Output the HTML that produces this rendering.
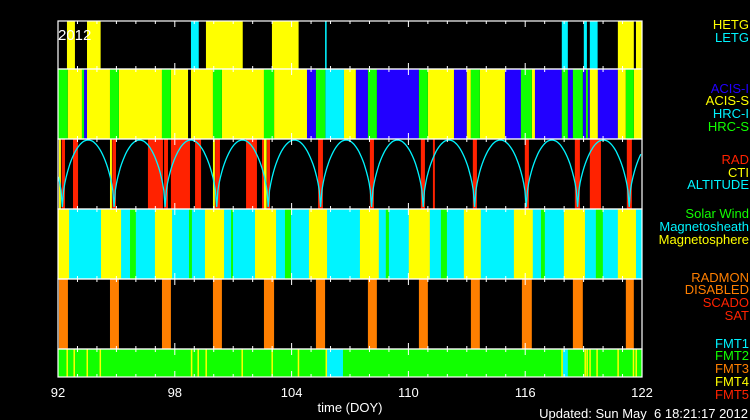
<!DOCTYPE html>
<html><head><meta charset="utf-8"><style>
body{margin:0;background:#000;width:750px;height:420px;overflow:hidden}
svg{display:block;font-family:"Liberation Sans",sans-serif}
text{white-space:pre}
</style></head><body>
<svg id="c" width="750" height="420"></svg>
<script>
// ---- data (DOY) ----
const tickLabels=[92,98,104,110,116,122];
const hetgSeg=[[92.46,92.87],[93.49,94.19],[99.60,101.49],[102.99,104.36],[120.76,121.58],[121.69,122]];
const letgSeg=[[98.83,99.23],[105.72,105.80],[117.88,118.19],[119.01,119.17],[119.32,119.72]];
const acisISeg=[[93.34,93.49],[104.79,105.25],[107.30,107.92],[108.38,110.54],[112.34,113.0],[114.96,115.78],[116.5,117.88],[118.19,118.45],[118.96,119.12],[119.22,119.32],[119.73,120.76]];
const acisSSeg=[[92.5,93.23],[93.49,94.67],[95.13,97.34],[97.8,98.68],[98.83,99.96],[100.42,102.58],[103.1,104.79],[106.69,107.30],[111.0,112.34],[113.0,113.21],[113.67,114.96],[116.34,116.5],[119.32,119.73],[120.76,121.17],[121.58,122]];
const hrcISeg=[[105.73,106.69]];
const hrcSSeg=[[92.0,92.5],[93.23,93.34],[94.67,95.13],[97.34,97.8],[99.96,100.42],[102.58,103.1],[105.25,105.73],[107.92,108.38],[110.54,111.0],[113.21,113.67],[115.78,116.34],[117.88,118.19],[118.45,118.96],[119.12,119.22],[121.17,121.58]];
const radSeg=[[92.19,92.36],[92.77,93.03],[94.79,94.98],[96.62,97.39],[97.45,97.65],[97.8,98.78],[99.04,99.35],[100.07,100.32],[101.66,102.22],[102.48,102.63],[102.74,102.89],[105.36,105.61],[108.02,108.23],[110.64,110.85],[111.26,111.36],[113.31,113.52],[115.98,116.19],[118.55,118.81],[119.32,119.89],[121.22,121.48]];
const ctiSeg=[[92.05,92.15],[94.67,94.77],[99.96,100.06],[102.58,102.72]];
const perigees=[89.57,92.22,94.88,97.5,100.15,102.8,105.49,108.11,110.76,113.4,116.05,118.69,121.34,123.99];
const swSeg=[[95.7,96.0],[98.73,98.88],[100.89,100.99],[103.66,103.97],[108.84,109.0],[111.67,111.98],[116.81,117.01],[119.63,119.99]];
const msphSeg=[[92,92.57],[94.21,95.24],[96.98,97.86],[99.55,100.53],[102.12,103.2],[104.89,105.82],[107.51,108.48],[110.02,111.1],[112.85,113.72],[115.42,116.39],[117.99,119.07],[120.76,121.69]];
const radmonSeg=[[92.05,92.51],[94.67,95.13],[97.34,97.8],[99.96,100.42],[102.58,103.1],[105.25,105.72],[107.92,108.38],[110.54,111.0],[113.21,113.67],[115.83,116.34],[118.45,118.96],[121.17,121.58]];
const fmt1Seg=[[105.82,106.64],[117.94,118.19]];
const fmt4Lines=[92.46,92.82,93.49,94.16,98.85,99.19,99.6,101.45,102.99,104.34,105.77,117.88,119.07,119.17,119.32,119.68,120.76,121.55,121.69];

const svg=document.getElementById('c');
const NS='http://www.w3.org/2000/svg';
const X0=58,X1=642,D0=92,D1=122;
const xs=d=>X0+(d-D0)*(X1-X0)/(D1-D0);
const rows=[[21,69],[69,139],[139,209],[209,279],[279,349],[349,377]];
function mk(t,a){const e=document.createElementNS(NS,t);for(const k in a)e.setAttribute(k,a[k]);svg.appendChild(e);return e;}
function bg(r,col,name){const e=mk('rect',{x:X0,y:rows[r][0],width:X1-X0,height:rows[r][1]-rows[r][0],fill:col});

}
function segs(arr,r,col,name){arr.forEach(s=>{const e=mk('rect',{x:xs(s[0]),y:rows[r][0],width:Math.max(1,xs(s[1])-xs(s[0])),height:rows[r][1]-rows[r][0],fill:col});

});}
bg(5,'#11ff00','fmt2-background');
bg(3,'#00f4ff','magnetosheath-background');
segs(hetgSeg,0,'#ffff00','hetg-segment');
segs(letgSeg,0,'#00f4ff','letg-segment');
segs(acisISeg,1,'#2200ff','acis-i-segment');
segs(acisSSeg,1,'#ffff00','acis-s-segment');
segs(hrcISeg,1,'#00f4ff','hrc-i-segment');
segs(hrcSSeg,1,'#11ff00','hrc-s-segment');
segs(radSeg,2,'#ff2200','rad-segment');
segs(ctiSeg,2,'#ffff00','cti-segment');
segs(msphSeg,3,'#ffff00','magnetosphere-segment');
segs(swSeg,3,'#11ff00','solar-wind-segment');
segs(radmonSeg,4,'#ff7f00','radmon-segment');
segs(fmt1Seg,5,'#00f4ff','fmt1-segment');
fmt4Lines.forEach(d=>{const e=mk('rect',{x:xs(d)-0.5,y:rows[5][0],width:1.5,height:rows[5][1]-rows[5][0],fill:'#ffff00'});

});
// altitude
let pts=[];
for(let i=0;i<perigees.length-1;i++){const a=perigees[i],b=perigees[i+1];
for(let k=0;k<=40;k++){const d=a+(b-a)*k/40;if(d<D0||d>D1)continue;const h=Math.pow(Math.sin(Math.PI*k/40),0.55);
pts.push(xs(d).toFixed(1)+','+(rows[2][1]-2-h*(rows[2][1]-rows[2][0]-3)).toFixed(1));}}
const alt=mk('polyline',{points:pts.join(' '),fill:'none',stroke:'#00f4ff','stroke-width':1.3});


// borders
rows.forEach((r,i)=>{const e=mk('rect',{x:X0,y:r[0],width:X1-X0,height:r[1]-r[0],fill:'none',stroke:'#fff','stroke-width':1.2});

});
// ticks
for(let d=D0;d<=D1;d++){rows.forEach(r=>{const len=(d-D0)%6===0?6:3;
mk('line',{x1:xs(d),x2:xs(d),y1:r[1],y2:r[1]-len,stroke:'#fff','stroke-width':1});
mk('line',{x1:xs(d),x2:xs(d),y1:r[0],y2:r[0]+len,stroke:'#fff','stroke-width':1});});}
tickLabels.forEach(d=>{const t=mk('text',{x:xs(d),y:397,fill:'#fff','font-size':13,'text-anchor':'middle'});t.textContent=d;

});
function txt(s,x,y,col,anchor,name,fs){const t=mk('text',{x:x,y:y,fill:col,'font-size':fs||13,'text-anchor':anchor});t.textContent=s;

}
txt('2012',58,40,'#fff','start','year-label',15);
txt('time (DOY)',350,412,'#fff','middle','x-axis-title');
txt('Updated: Sun May  6 18:21:17 2012',748,418,'#fff','end','updated-label');
const leg=[['HETG',29,'#ffff00'],['LETG',42,'#00f4ff'],['ACIS-I',93,'#2200ff'],['ACIS-S',105,'#ffff00'],['HRC-I',118,'#00f4ff'],['HRC-S',131,'#11ff00'],
['RAD',164,'#ff2200'],['CTI',177,'#ffff00'],['ALTITUDE',189,'#00f4ff'],['Solar Wind',218,'#11ff00'],['Magnetosheath',231,'#00f4ff'],['Magnetosphere',244,'#ffff00'],
['RADMON',282,'#ff7f00'],['DISABLED',294,'#ff7f00'],['SCADO',307,'#ff2200'],['SAT',320,'#ff2200'],
['FMT1',348,'#00f4ff'],['FMT2',360,'#11ff00'],['FMT3',373,'#ff7f00'],['FMT4',386,'#ffff00'],['FMT5',399,'#ff2200']];
leg.forEach(l=>txt(l[0],749,l[1],l[2],'end','legend-entry'));
</script>
</body></html>
